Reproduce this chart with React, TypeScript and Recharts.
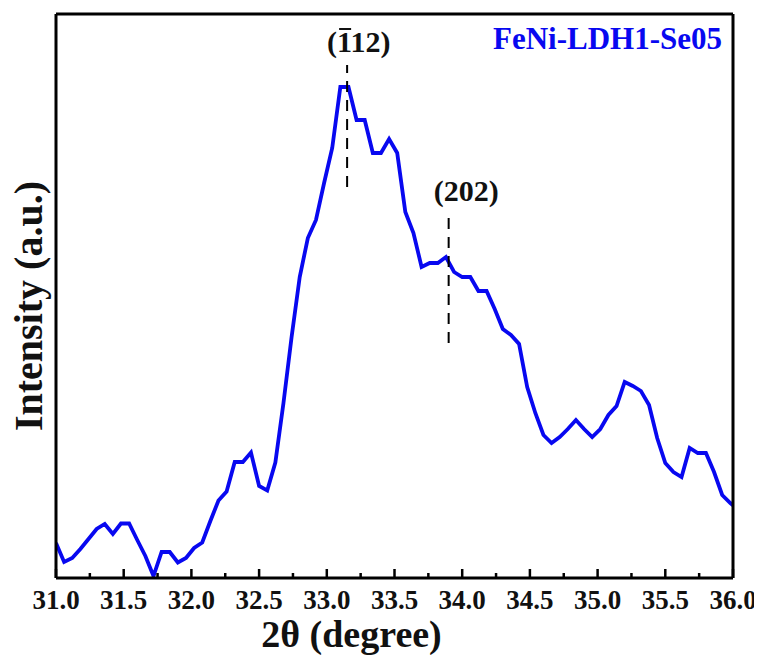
import React from "react";
import {
  LineChart,
  Line,
  XAxis,
  YAxis,
  ReferenceArea,
  ReferenceLine,
} from "recharts";

// 2θ (degree) sampling positions
const twoTheta = [
  31.0, 31.06, 31.12, 31.18, 31.24, 31.3, 31.36, 31.42, 31.48, 31.54,
  31.6, 31.66, 31.72, 31.78, 31.84, 31.9, 31.96, 32.02, 32.08, 32.14,
  32.2, 32.26, 32.32, 32.38, 32.44, 32.5, 32.56, 32.62, 32.68, 32.74,
  32.8, 32.86, 32.92, 32.98, 33.04, 33.1, 33.16, 33.22, 33.28, 33.34,
  33.4, 33.46, 33.52, 33.58, 33.64, 33.7, 33.76, 33.82, 33.88, 33.94,
  34.0, 34.06, 34.12, 34.18, 34.24, 34.3, 34.36, 34.42, 34.48, 34.54,
  34.6, 34.66, 34.72, 34.78, 34.84, 34.9, 34.96, 35.02, 35.08, 35.14,
  35.2, 35.26, 35.32, 35.38, 35.44, 35.5, 35.56, 35.62, 35.68, 35.74,
  35.8, 35.86, 35.92, 35.98, 36.04,
];

// Intensity (a.u.)
const intensity = [
  35, 16, 20, 29, 39, 49, 54, 44, 54.5, 54.5,
  38, 22, 2, 26, 26, 15.5, 20, 30, 35.5, 57,
  77.5, 86.5, 116, 116, 125.5, 92, 87.5, 115.5, 175, 241,
  301, 340, 358, 395, 430, 491, 491, 458, 458, 425,
  425, 439, 425, 366, 345, 311, 315, 315, 321, 306,
  301, 301, 287, 287, 269, 249, 243, 234, 191, 165,
  143, 135, 141, 149, 158, 149, 141, 149, 163, 172,
  196, 192, 187, 173, 140, 115, 106, 101, 130, 125,
  125, 106, 83, 75, 68,
];

const xTicks = [
  31.0, 31.25, 31.5, 31.75, 32.0, 32.25, 32.5, 32.75, 33.0, 33.25, 33.5,
  33.75, 34.0, 34.25, 34.5, 34.75, 35.0, 35.25, 35.5, 35.75, 36.0,
];
const xTickLabels: Record<string, string> = {
  "31": "31.0",
  "31.5": "31.5",
  "32": "32.0",
  "32.5": "32.5",
  "33": "33.0",
  "33.5": "33.5",
  "34": "34.0",
  "34.5": "34.5",
  "35": "35.0",
  "35.5": "35.5",
  "36": "36.0",
};

// peak markers: position and vertical extent (intensity units)
const peak1 = { x: 33.15, y1: 391, y2: 513 };
const peak2 = { x: 33.9, y1: 235, y2: 361 };

const sampleName = "FeNi-LDH1-Se05";
const xTitle = "2θ (degree)";
const yTitle = "Intensity (a.u.)";

const data = twoTheta.map((t, i) => ({ t, v: intensity[i] }));

const FONT = '"Liberation Serif", "Times New Roman", serif';
const BLUE = "#0808F0";
const FRAME = { stroke: "#000", strokeWidth: 3 };

const XTick = (props: any) => {
  const { x, y, payload } = props;
  const label = xTickLabels[String(payload.value)];
  const major = label !== undefined;
  return (
    <g>
      <line
        x1={x}
        x2={x}
        y1={y}
        y2={y - (major ? 9 : 5)}
        stroke="#000"
        strokeWidth={2.5}
      />
      {major && (
        <text
          x={x}
          y={y + 31}
          textAnchor="middle"
          fontFamily={FONT}
          fontWeight="bold"
          fontSize={27}
          fill="#111"
        >
          {label}
        </text>
      )}
    </g>
  );
};

export default function App() {
  return (
    <LineChart
      width={754}
      height={647}
      data={data}
      margin={{ top: 5, right: 28, left: 47, bottom: 0 }}
      style={{ overflow: "visible" }}
    >
      <XAxis
        dataKey="t"
        type="number"
        domain={[31, 36]}
        allowDataOverflow
        ticks={xTicks}
        interval={0}
        tickSize={0}
        tickMargin={0}
        axisLine={FRAME}
        tickLine={false}
        height={77}
        tick={<XTick />}
        label={{
          content: (p: any) => {
            const vb = p.viewBox || { x: 48, y: 570, width: 677 };
            return (
              <text
                x={vb.x + vb.width / 2 - 43}
                y={vb.y + 69}
                textAnchor="middle"
                fontFamily={FONT}
                fontWeight="bold"
                fontSize={38}
                fill="#111"
              >
                {xTitle}
              </text>
            );
          },
        }}
      />
      <XAxis
        xAxisId="top"
        orientation="top"
        dataKey="t"
        type="number"
        domain={[31, 36]}
        allowDataOverflow
        height={1}
        tick={false}
        tickLine={false}
        axisLine={FRAME}
      />
      <YAxis
        type="number"
        domain={[0, 564]}
        allowDataOverflow
        width={1}
        tick={false}
        tickLine={false}
        axisLine={FRAME}
      />
      <YAxis
        yAxisId="right"
        orientation="right"
        type="number"
        domain={[0, 564]}
        allowDataOverflow
        width={1}
        tick={false}
        tickLine={false}
        axisLine={FRAME}
      />
      <Line
        type="linear"
        dataKey="v"
        stroke={BLUE}
        strokeWidth={3.8}
        dot={false}
        isAnimationActive={false}
      />
      <ReferenceLine
        segment={[
          { x: peak1.x, y: peak1.y1 },
          { x: peak1.x, y: peak1.y2 },
        ]}
        stroke="#000"
        strokeWidth={2}
        strokeDasharray="11 8"
        label={{
          content: (p: any) => {
            const vb = p.viewBox || { x: 338, y: 57 };
            const x0 = vb.x - 20;
            const base = vb.y - 13;
            return (
              <g>
                <text
                  x={x0}
                  y={base}
                  textAnchor="start"
                  fontFamily={FONT}
                  fontWeight="bold"
                  fontSize={30}
                  fill="#111"
                >
                  (112)
                </text>
                <line
                  x1={x0 + 12}
                  x2={x0 + 24}
                  y1={base - 23}
                  y2={base - 23}
                  stroke="#111"
                  strokeWidth={2}
                />
              </g>
            );
          },
        }}
      />
      <ReferenceLine
        segment={[
          { x: peak2.x, y: peak2.y1 },
          { x: peak2.x, y: peak2.y2 },
        ]}
        stroke="#000"
        strokeWidth={2}
        strokeDasharray="11 8"
        label={{
          content: (p: any) => {
            const vb = p.viewBox || { x: 440, y: 209 };
            return (
              <text
                x={vb.x - 15}
                y={vb.y - 16}
                textAnchor="start"
                fontFamily={FONT}
                fontWeight="bold"
                fontSize={30}
                fill="#111"
              >
                (202)
              </text>
            );
          },
        }}
      />
      <ReferenceArea
        x1={31}
        x2={36}
        y1={0}
        y2={564}
        fill="none"
        fillOpacity={0}
        stroke="none"
        label={{
          content: (p: any) => {
            const vb = p.viewBox || { x: 48, y: 6, width: 677, height: 564 };
            return (
              <g>
                <text
                  x={vb.x + vb.width - 11}
                  y={vb.y + 35}
                  textAnchor="end"
                  fontFamily={FONT}
                  fontWeight="bold"
                  fontSize={31}
                  fill={BLUE}
                >
                  {sampleName}
                </text>
                <text
                  transform={`translate(${vb.x - 14}, ${
                    vb.y + vb.height / 2 + 10
                  }) rotate(-90)`}
                  textAnchor="middle"
                  fontFamily={FONT}
                  fontWeight="bold"
                  fontSize={40}
                  fill="#111"
                >
                  {yTitle}
                </text>
              </g>
            );
          },
        }}
      />
    </LineChart>
  );
}
